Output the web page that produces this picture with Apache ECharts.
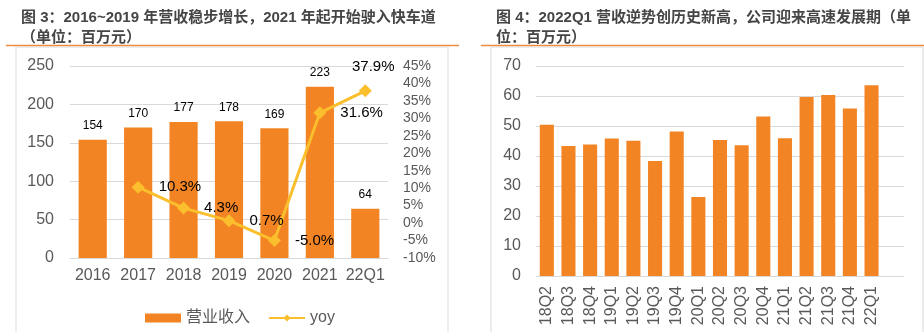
<!DOCTYPE html>
<html><head><meta charset="utf-8">
<script src="https://cdn.jsdelivr.net/npm/echarts@6/dist/echarts.min.js"></script>
<style>html,body{margin:0;padding:0;background:#fff}#c{width:924px;height:332px}</style>
</head><body><div id="c"></div>
<script>
const leftCategories = ['2016','2017','2018','2019','2020','2021','22Q1'];
const revenue = [154,170,177,178,169,223,64];
const yoy = ['-',10.3,4.3,0.7,-5.0,31.6,37.9];
const leftTicks = [0,50,100,150,200,250];
const rightTicksPct = [-10,-5,0,5,10,15,20,25,30,35,40,45];
const quarters = ['18Q2','18Q3','18Q4','19Q1','19Q2','19Q3','19Q4','20Q1','20Q2','20Q3','20Q4','21Q1','21Q2','21Q3','21Q4','22Q1',''];
const quarterRevenue = [50.4,43.3,43.8,45.8,45.1,38.3,48.2,26.3,45.3,43.6,53.2,45.9,59.7,60.3,55.8,63.6,'-'];
const quarterTicks = [0,10,20,30,40,50,60,70];

const FONT = '"Liberation Sans", Arial, "Noto Sans CJK SC", sans-serif';
const GRAY = '#595959';
const ORANGE = '#F28423';
const YELLOW = '#FBBE2C';
const chart = echarts.init(document.getElementById('c'), null, {renderer:'canvas'});
chart.setOption({
  animation:false,
  textStyle:{fontFamily:FONT},
  title:[
    {text:'图 3：2016~2019 年营收稳步增长，2021 年起开始驶入快车道\n（单位：百万元）',left:16,top:3,
     textStyle:{fontSize:15,fontWeight:'bold',color:'#454545',lineHeight:20,fontFamily:FONT}},
    {text:'图 4：2022Q1 营收逆势创历史新高，公司迎来高速发展期（单\n位：百万元）',left:491,top:3,
     textStyle:{fontSize:15,fontWeight:'bold',color:'#454545',lineHeight:20,fontFamily:FONT}}
  ],
  graphic:[
    {type:'line',shape:{x1:6,y1:45.5,x2:459,y2:45.5},style:{stroke:'#EE8A3C',lineWidth:1.5},silent:true},
    {type:'line',shape:{x1:481,y1:45.5,x2:924,y2:45.5},style:{stroke:'#EE8A3C',lineWidth:1.5},silent:true},
    {type:'rect',shape:{x:16,y:47,width:432,height:300},style:{fill:'none',stroke:'#D9D9D9',lineWidth:1},silent:true},
    {type:'rect',shape:{x:491,y:47,width:432,height:300},style:{fill:'none',stroke:'#D9D9D9',lineWidth:1},silent:true}
  ],
  legend:{left:140,top:305,itemGap:18,itemWidth:36,itemHeight:9,
    textStyle:{fontSize:16,color:GRAY,fontFamily:FONT},
    data:[{name:'营业收入',icon:'rect'},{name:'yoy'}]},
  grid:[
    {left:70,right:536,top:66,bottom:74},
    {left:536,right:20,top:66,bottom:56}
  ],
  xAxis:[
    {type:'category',gridIndex:0,data:leftCategories,
     axisLine:{lineStyle:{color:'#D9D9D9'}},axisTick:{show:false},
     axisLabel:{fontSize:16,color:GRAY,margin:10,interval:0}},
    {type:'category',gridIndex:1,data:quarters,
     axisLine:{lineStyle:{color:'#D9D9D9'}},axisTick:{show:false},
     axisLabel:{fontSize:16,color:GRAY,margin:10,rotate:90,interval:0}}
  ],
  yAxis:[
    {type:'value',gridIndex:0,min:leftTicks[0],max:leftTicks[leftTicks.length-1],interval:50,
     axisLine:{show:false},axisTick:{show:false},
     splitLine:{lineStyle:{color:'#D9D9D9'}},
     axisLabel:{fontSize:16,color:GRAY,margin:16}},
    {type:'value',gridIndex:0,min:rightTicksPct[0],max:rightTicksPct[rightTicksPct.length-1],interval:5,position:'right',
     axisLine:{show:false},axisTick:{show:false},splitLine:{show:false},
     axisLabel:{fontSize:14,color:GRAY,margin:15,formatter:'{value}%'}},
    {type:'value',gridIndex:1,min:quarterTicks[0],max:quarterTicks[quarterTicks.length-1],interval:10,
     axisLine:{show:false},axisTick:{show:false},
     splitLine:{lineStyle:{color:'#D9D9D9'}},
     axisLabel:{fontSize:16,color:GRAY,margin:15}}
  ],
  series:[
    {name:'营业收入',type:'bar',xAxisIndex:0,yAxisIndex:0,data:revenue,barWidth:'62%',
     itemStyle:{color:ORANGE},
     label:{show:true,position:'top',distance:8,fontSize:12,color:'#000'}},
    {name:'yoy',type:'line',xAxisIndex:0,yAxisIndex:1,
     data:yoy.map((v,i)=> i===6 ? {value:v,label:{position:'top',offset:[8,4]}} : v),
     symbol:'diamond',symbolSize:13,
     lineStyle:{color:YELLOW,width:3},itemStyle:{color:YELLOW},
     label:{show:true,position:'right',distance:14,fontSize:15,color:'#000',
       formatter:p=>Number(p.value).toFixed(1)+'%'}},
    {name:'季度营收',type:'bar',xAxisIndex:1,yAxisIndex:2,data:quarterRevenue,barWidth:'65%',
     itemStyle:{color:ORANGE}}
  ]
});
</script></body></html>
